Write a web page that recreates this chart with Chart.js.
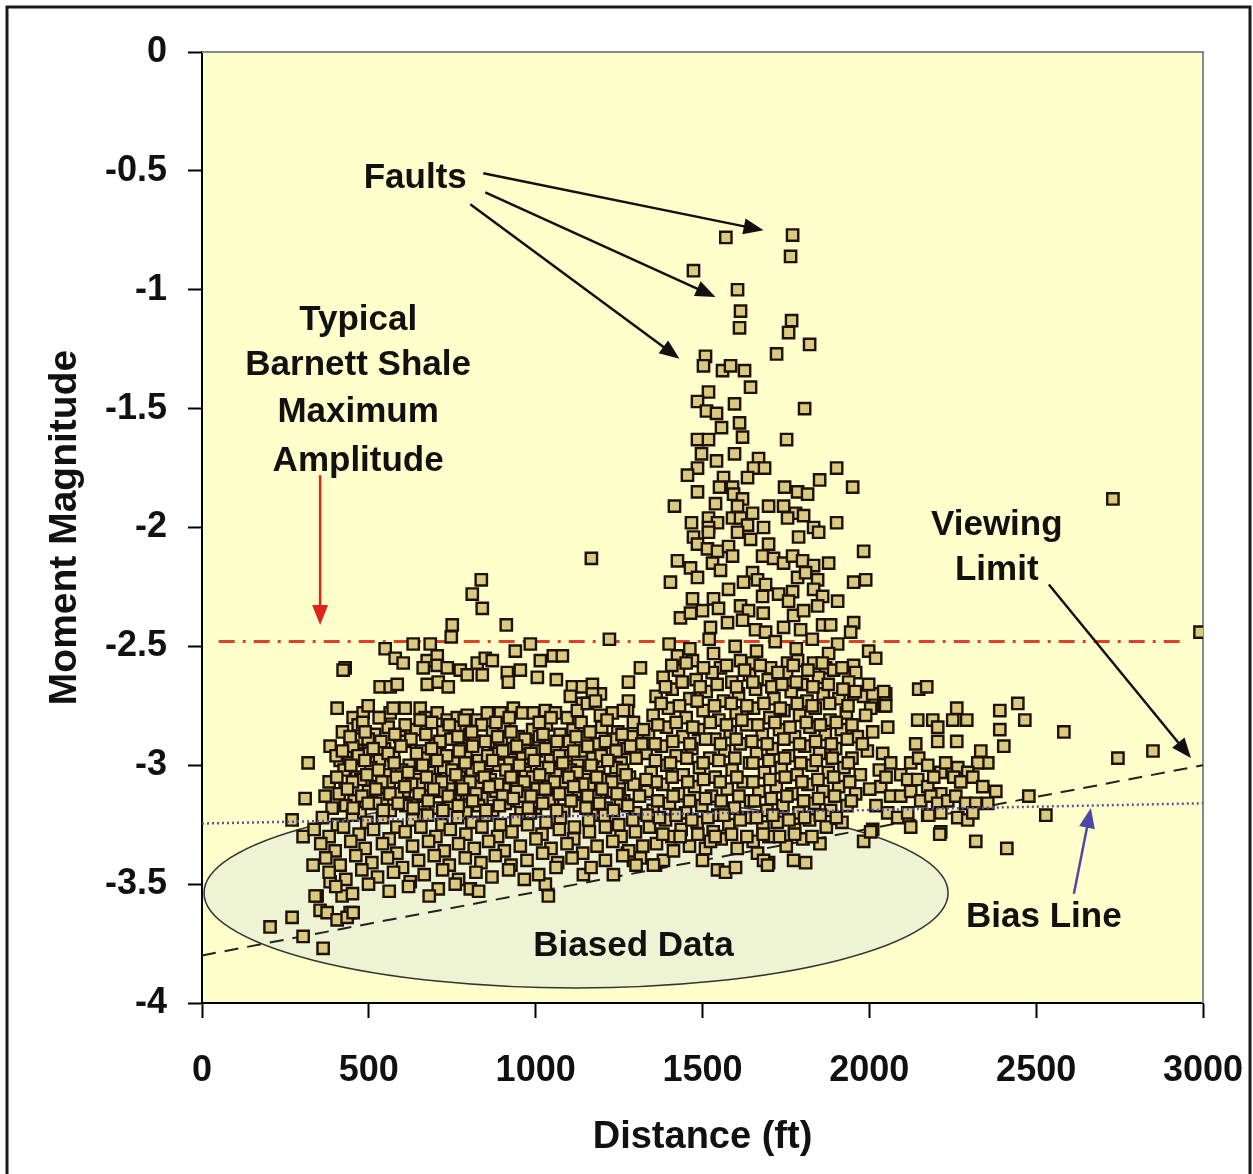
<!DOCTYPE html>
<html>
<head>
<meta charset="utf-8">
<script src="https://cdn.jsdelivr.net/npm/chart.js@4.4.1/dist/chart.umd.min.js"></script>
<style>
  html, body { margin: 0; padding: 0; background: #fff; }
  #wrap { width: 1253px; height: 1174px; position: relative; }
</style>
</head>
<body>
<div id="wrap"><canvas id="chart"></canvas></div>
<script>
// distance (ft), moment magnitude
const faultColumn = [
  [1570,-0.78],[1770,-0.77],[1764,-0.86],[1473,-0.92],[1605,-1.00],[1614,-1.09],[1611,-1.16],[1767,-1.13],[1758,-1.18],
  [1821,-1.23],[1722,-1.27],[1509,-1.28],[1503,-1.32],[1560,-1.34],[1584,-1.32],[1626,-1.34],[1644,-1.41],[1518,-1.43],
  [1485,-1.47],[1596,-1.48],[1806,-1.50],[1512,-1.51],[1542,-1.52],[1611,-1.56],[1557,-1.58],[1485,-1.63],[1518,-1.63],
  [1620,-1.62],[1752,-1.63],[1497,-1.69],[1596,-1.69],[1668,-1.71],[1542,-1.72],[1485,-1.75],[1455,-1.78],[1563,-1.79],
  [1653,-1.75],[1686,-1.75],[1635,-1.79],[1902,-1.75],[1851,-1.80],[1950,-1.83],[1485,-1.85],[1551,-1.83],[1590,-1.83],
  [1593,-1.86],[1620,-1.88],[1746,-1.83],[1785,-1.85],[1815,-1.86],[1416,-1.91],[1539,-1.90],[1605,-1.91],[1698,-1.91],
  [1743,-1.91],[1779,-1.94],[1803,-1.95],[1467,-1.98],[1518,-1.96],[1545,-1.98],[1518,-2.00],[1590,-1.96],[1614,-1.96],
  [1650,-1.94],[1635,-1.99],[1683,-2.00],[1755,-1.96],[1833,-2.00],[1848,-2.02],[1902,-1.98],[1473,-2.04],[1485,-2.07],
  [1518,-2.02],[1605,-2.02],[1644,-2.05],[1698,-2.07],[1788,-2.04],[1515,-2.09],[1545,-2.10],[1578,-2.08],[1425,-2.14],
  [1464,-2.17],[1485,-2.21],[1530,-2.15],[1554,-2.18],[1590,-2.12],[1680,-2.12],[1713,-2.13],[1743,-2.15],[1770,-2.12],
  [1800,-2.14],[1833,-2.16],[1878,-2.15],[1983,-2.10],[1404,-2.23],[1650,-2.19],[1665,-2.22],[1689,-2.24],[1623,-2.23],
  [1785,-2.21],[1809,-2.19],[1845,-2.22],[1953,-2.23],[1989,-2.22],[1470,-2.30],[1533,-2.30],[1578,-2.26],[1434,-2.38],
  [1464,-2.36],[1500,-2.35],[1548,-2.34],[1614,-2.33],[1638,-2.35],[1680,-2.29],[1682,-2.36],[1728,-2.28],[1770,-2.27],
  [1758,-2.31],[1773,-2.37],[1803,-2.35],[1833,-2.26],[1860,-2.29],[1845,-2.33],[1905,-2.31],[1524,-2.42],[1575,-2.40],
  [1620,-2.39],[1659,-2.43],[1689,-2.44],[1743,-2.42],[1794,-2.43],[1860,-2.41],[1884,-2.41],[1953,-2.40],[1944,-2.44],
  [2730,-1.88],[1167,-2.13]
];

const faultBase = [
  [1998,-2.52],[2019,-2.55],[1425,-2.54],[1470,-2.56],[1533,-2.53],[1554,-2.59],[1614,-2.56],[1650,-2.57],[1704,-2.59],
  [1755,-2.57],[1785,-2.56],[1833,-2.57],[1869,-2.59],[1953,-2.58],[1905,-2.49],[1959,-2.61],[1998,-2.66],[2043,-2.69],[2049,-2.75],
  [1400,-2.49],[1462,-2.51],[1520,-2.47],[1598,-2.50],[1662,-2.52],[1718,-2.48],[1781,-2.51],[1829,-2.47],[1878,-2.53],
  [1382,-2.63],[1428,-2.60],[1481,-2.64],[1529,-2.61],[1588,-2.65],[1641,-2.62],[1697,-2.64],[1752,-2.61],[1799,-2.66],
  [1848,-2.63],[1893,-2.60],[1938,-2.65],
  [1361,-2.71],[1409,-2.68],[1462,-2.72],[1511,-2.69],[1563,-2.73],[1608,-2.70],[1659,-2.68],[1714,-2.72],[1766,-2.69],
  [1813,-2.73],[1862,-2.70],[1909,-2.72],[1958,-2.69],
  [1352,-2.79],[1398,-2.76],[1451,-2.80],[1502,-2.77],[1549,-2.81],[1601,-2.78],[1653,-2.76],[1702,-2.80],[1744,-2.77],
  [1791,-2.79],[1838,-2.76],[1882,-2.81],[1931,-2.78],
  [1338,-2.87],[1392,-2.84],[1441,-2.88],[1488,-2.85],[1537,-2.89],[1583,-2.86],[1632,-2.83],[1679,-2.87],[1731,-2.85],
  [1776,-2.88],[1822,-2.84],[1868,-2.87],[1916,-2.85],[1964,-2.88],
  [1331,-2.95],[1377,-2.92],[1421,-2.96],[1468,-2.93],[1522,-2.97],[1566,-2.94],[1613,-2.91],[1662,-2.95],[1709,-2.93],
  [1758,-2.96],[1806,-2.92],[1851,-2.95],[1899,-2.93],[1948,-2.97],[1994,-2.94],
  [1346,-3.03],[1393,-3.00],[1442,-3.04],[1491,-3.01],[1538,-3.05],[1589,-3.02],[1641,-2.99],[1686,-3.03],[1736,-3.01],
  [1784,-3.04],[1829,-3.00],[1877,-3.03],[1924,-3.01],[1973,-3.04],
  [1334,-3.11],[1381,-3.08],[1428,-3.12],[1476,-3.09],[1527,-3.13],[1574,-3.10],[1622,-3.07],[1669,-3.11],[1721,-3.09],
  [1768,-3.12],[1816,-3.08],[1861,-3.11],[1908,-3.09],[1959,-3.12],[2001,-3.10],
  [1352,-3.19],[1401,-3.16],[1449,-3.20],[1498,-3.17],[1546,-3.21],[1596,-3.18],[1644,-3.15],[1693,-3.19],[1741,-3.17],
  [1789,-3.20],[1836,-3.16],[1884,-3.19],[1933,-3.17],
  [1341,-3.26],[1389,-3.23],[1436,-3.27],[1484,-3.24],[1532,-3.28],[1579,-3.25],[1628,-3.22],[1681,-3.26],[1724,-3.24],
  [1776,-3.27],[1821,-3.23],[1871,-3.26],[1918,-3.24],
  [1362,-3.33],[1408,-3.30],[1461,-3.34],[1556,-3.31],[1604,-3.35],[1652,-3.32],[1699,-3.30],[1751,-3.34],[1801,-3.31],[1852,-3.33],
  [1545,-3.44],[1569,-3.45],[1599,-3.43],[1809,-3.41],[1773,-3.40],[1698,-3.41],[1665,-3.37],[1359,-3.42],[1383,-3.40],
  [1413,-3.36],[1500,-3.40],[1509,-3.35],[1524,-3.32],[1275,-3.37],[1293,-3.40],[1314,-3.39],[1983,-3.32],[2004,-3.28],
  [1683,-3.40],[1695,-3.42],[1353,-3.42],
  [1408,-2.58],[1451,-2.57],[1503,-2.59],[1572,-2.58],[1626,-2.60],[1673,-2.58],[1726,-2.61],[1772,-2.58],[1816,-2.60],
  [1859,-2.57],[1918,-2.59],
  [1389,-2.67],[1439,-2.65],[1493,-2.67],[1544,-2.66],[1602,-2.67],[1651,-2.65],[1708,-2.67],[1738,-2.66],[1781,-2.65],
  [1831,-2.67],[1877,-2.66],[1921,-2.68],
  [1376,-2.74],[1431,-2.75],[1484,-2.73],[1536,-2.75],[1586,-2.74],[1633,-2.75],[1684,-2.74],[1733,-2.76],[1784,-2.74],
  [1829,-2.75],[1881,-2.74],[1936,-2.75],
  [1366,-2.83],[1421,-2.82],[1471,-2.84],[1523,-2.82],[1572,-2.83],[1618,-2.81],[1666,-2.83],[1717,-2.82],[1762,-2.84],
  [1811,-2.82],[1853,-2.83],[1901,-2.82],[1948,-2.83],
  [1358,-2.91],[1411,-2.90],[1462,-2.91],[1509,-2.89],[1554,-2.91],[1601,-2.89],[1648,-2.90],[1694,-2.91],[1744,-2.89],
  [1791,-2.91],[1839,-2.90],[1886,-2.91],[1934,-2.89],[1979,-2.91],
  [1359,-2.98],[1404,-2.99],[1453,-2.97],[1502,-2.99],[1549,-2.98],[1597,-2.97],[1651,-2.99],[1699,-2.98],[1746,-2.97],
  [1794,-2.99],[1841,-2.98],[1889,-2.97],[1937,-2.99],
  [1361,-3.07],[1409,-3.05],[1456,-3.07],[1503,-3.06],[1553,-3.07],[1603,-3.05],[1651,-3.07],[1702,-3.06],[1748,-3.05],
  [1798,-3.07],[1846,-3.06],[1893,-3.05],[1941,-3.07],
  [1366,-3.15],[1412,-3.13],[1461,-3.15],[1509,-3.14],[1556,-3.15],[1609,-3.13],[1656,-3.15],[1706,-3.14],[1753,-3.13],
  [1803,-3.15],[1848,-3.14],[1896,-3.13],[1946,-3.15],
  [1371,-3.22],[1421,-3.21],[1468,-3.23],[1516,-3.22],[1564,-3.21],[1613,-3.23],[1662,-3.22],[1711,-3.21],[1759,-3.23],
  [1806,-3.22],[1853,-3.21],[1901,-3.22],
  [1381,-3.29],[1433,-3.30],[1486,-3.29],[1538,-3.30],[1587,-3.29],[1633,-3.30],[1682,-3.29],[1731,-3.30],[1776,-3.29],[1828,-3.30]
];

const westCluster = [
  [837,-2.22],[810,-2.28],[840,-2.34],[750,-2.41],[747,-2.46],[912,-2.41],[633,-2.49],[684,-2.49],[984,-2.49],[1221,-2.47],
  [549,-2.51],[579,-2.55],[603,-2.57],[429,-2.59],[675,-2.56],[705,-2.54],[663,-2.59],[705,-2.58],[735,-2.59],[774,-2.60],
  [795,-2.62],[825,-2.57],[849,-2.55],[870,-2.56],[840,-2.62],[939,-2.52],[1014,-2.56],[1053,-2.54],[1080,-2.54],[915,-2.61],
  [954,-2.60],[1005,-2.63],[918,-2.65],[1314,-2.59],[1278,-2.65],[1062,-2.64],[534,-2.67],[564,-2.67],[585,-2.66],[675,-2.66],
  [708,-2.65],[738,-2.67],[1110,-2.67],[1140,-2.67],[1170,-2.66],[1194,-2.70],[1104,-2.71],[1170,-2.70],[1140,-2.74],
  [1278,-2.73],[1275,-2.77],[405,-2.76],[453,-2.80],[483,-2.78],[498,-2.75],[534,-2.80],[564,-2.78],[573,-2.76],[609,-2.76],
  [654,-2.76],[669,-2.80],[705,-2.78],[735,-2.81],[765,-2.80],[795,-2.79],[825,-2.81],[855,-2.78],[894,-2.78],[933,-2.76],
  [960,-2.78],[993,-2.78],[1029,-2.77],[1059,-2.78],[1095,-2.80],[1125,-2.77],[1155,-2.74],[1179,-2.73],[1194,-2.79],
  [1230,-2.78],[1263,-2.77],[1293,-2.82],[1323,-2.85],[384,-2.92],[318,-2.99],[414,-2.98],[444,-2.92],[468,-2.89],[498,-2.94],
  [465,-2.97],[309,-3.14],[369,-3.13],[390,-3.18],[270,-3.23],[303,-3.30],[333,-3.42],[345,-3.55],[354,-3.61],[270,-3.64],
  [384,-3.49],[420,-3.55],[444,-3.62],[708,-3.52],[804,-3.52],[1029,-3.50],[1038,-3.55],[1143,-3.46],[1233,-3.46],
  [204,-3.68],[303,-3.72],[363,-3.77],[339,-3.55],[375,-3.62],[405,-3.65],[435,-3.64],[453,-3.62],[423,-2.60],
  [421,-2.86],[468,-2.83],[517,-2.87],[558,-2.84],[593,-2.88],[641,-2.85],[688,-2.82],[722,-2.86],[758,-2.84],[802,-2.87],
  [838,-2.83],[871,-2.86],[907,-2.84],[948,-2.88],[991,-2.85],[1032,-2.83],[1073,-2.87],[1112,-2.85],[1151,-2.88],[1198,-2.84],
  [1246,-2.86],[1288,-2.88],
  [452,-2.92],[498,-2.89],[547,-2.93],[608,-2.90],[657,-2.94],[699,-2.91],[746,-2.89],[781,-2.93],[817,-2.90],[858,-2.92],
  [897,-2.89],[933,-2.93],[976,-2.91],[1011,-2.88],[1058,-2.92],[1101,-2.90],[1136,-2.94],[1183,-2.91],[1231,-2.89],
  [1272,-2.93],[1318,-2.91],
  [402,-2.96],[441,-2.99],[489,-2.95],[532,-2.98],[574,-2.96],[621,-3.00],[666,-2.97],[711,-2.95],[754,-2.99],[791,-2.96],
  [829,-2.98],[879,-2.95],[921,-2.99],[961,-2.97],[1002,-2.94],[1044,-2.98],[1091,-2.96],[1126,-3.00],[1171,-2.97],
  [1214,-2.95],[1256,-2.99],[1301,-2.97],
  [426,-3.02],[464,-3.05],[506,-3.01],[551,-3.04],[598,-3.02],[641,-3.06],[681,-3.03],[724,-3.01],[771,-3.05],[809,-3.02],
  [851,-3.04],[889,-3.00],[931,-3.05],[969,-3.03],[1019,-3.01],[1061,-3.04],[1104,-3.02],[1146,-3.06],[1189,-3.03],
  [1241,-3.01],[1281,-3.05],
  [381,-3.07],[429,-3.10],[476,-3.06],[519,-3.09],[561,-3.07],[606,-3.11],[651,-3.08],[699,-3.06],[741,-3.10],[779,-3.07],
  [826,-3.09],[864,-3.06],[906,-3.10],[944,-3.08],[991,-3.05],[1034,-3.09],[1081,-3.07],[1119,-3.11],[1161,-3.08],
  [1204,-3.06],[1251,-3.10],[1294,-3.08],[1331,-3.06],
  [411,-3.12],[456,-3.15],[499,-3.11],[541,-3.14],[586,-3.12],[629,-3.16],[671,-3.13],[716,-3.11],[759,-3.15],[801,-3.12],
  [839,-3.14],[881,-3.11],[919,-3.15],[966,-3.13],[1004,-3.10],[1051,-3.14],[1094,-3.12],[1136,-3.16],[1179,-3.13],
  [1226,-3.11],[1264,-3.15],[1311,-3.13],
  [431,-3.17],[474,-3.20],[521,-3.16],[564,-3.19],[611,-3.17],[654,-3.21],[701,-3.18],[744,-3.16],[791,-3.20],[829,-3.17],
  [871,-3.19],[909,-3.16],[956,-3.20],[999,-3.18],[1041,-3.15],[1084,-3.19],[1131,-3.17],[1169,-3.21],[1211,-3.18],
  [1254,-3.16],[1299,-3.20],
  [361,-3.22],[406,-3.25],[451,-3.21],[494,-3.24],[541,-3.22],[584,-3.26],[631,-3.23],[676,-3.21],[719,-3.25],[766,-3.22],
  [809,-3.24],[851,-3.21],[894,-3.25],[941,-3.23],[984,-3.20],[1031,-3.24],[1074,-3.22],[1116,-3.26],[1159,-3.23],
  [1206,-3.21],[1249,-3.25],[1291,-3.23],[1334,-3.21],
  [336,-3.27],[381,-3.30],[424,-3.26],[471,-3.29],[514,-3.27],[561,-3.31],[609,-3.28],[656,-3.26],[701,-3.30],[744,-3.27],
  [791,-3.29],[839,-3.26],[886,-3.30],[929,-3.28],[976,-3.25],[1019,-3.29],[1071,-3.27],[1114,-3.31],[1161,-3.28],
  [1209,-3.26],[1256,-3.30],[1299,-3.28],
  [356,-3.33],[399,-3.36],[446,-3.32],[489,-3.35],[541,-3.33],[584,-3.37],[631,-3.34],[679,-3.32],[726,-3.36],[769,-3.33],
  [816,-3.35],[859,-3.32],[906,-3.36],[954,-3.34],[1001,-3.31],[1046,-3.35],[1094,-3.33],[1141,-3.37],[1184,-3.34],
  [1231,-3.32],[1279,-3.36],[1321,-3.34],
  [371,-3.39],[414,-3.42],[461,-3.38],[509,-3.41],[556,-3.39],[601,-3.43],[649,-3.40],[696,-3.38],[741,-3.42],[789,-3.39],
  [836,-3.41],[879,-3.38],[926,-3.42],[974,-3.40],[1021,-3.37],[1066,-3.41],[1109,-3.39],[1166,-3.43],[1209,-3.40],
  [1261,-3.38],[1301,-3.42],
  [381,-3.45],[431,-3.48],[479,-3.44],[526,-3.47],[574,-3.45],[624,-3.49],[666,-3.46],[721,-3.44],[769,-3.48],[821,-3.45],
  [869,-3.47],[919,-3.44],[966,-3.48],[1009,-3.46],[1061,-3.43],
  [401,-3.51],[451,-3.54],[499,-3.50],[561,-3.53],[619,-3.51],[681,-3.55],[759,-3.50],[829,-3.53],
  [482,-2.82],[531,-2.80],[609,-2.83],[654,-2.81],[741,-2.83],[786,-2.81],[881,-2.82],[921,-2.80],[1011,-2.82],[1046,-2.80],
  [1136,-2.82],[1214,-2.81],
  [444,-2.88],[489,-2.86],[536,-2.90],[578,-2.87],[626,-2.89],[671,-2.87],[713,-2.90],[767,-2.88],[808,-2.86],[849,-2.90],
  [886,-2.88],[926,-2.86],[968,-2.89],[1022,-2.87],[1064,-2.90],[1121,-2.88],[1163,-2.86],[1209,-2.90],[1259,-2.87],
  [421,-2.94],[468,-2.96],[513,-2.93],[558,-2.95],[596,-2.92],[643,-2.95],[688,-2.93],[733,-2.96],[771,-2.94],[811,-2.92],
  [856,-2.96],[901,-2.94],[943,-2.92],[986,-2.95],[1029,-2.93],[1071,-2.96],[1114,-2.94],[1156,-2.92],[1196,-2.96],
  [1241,-2.94],[1284,-2.92],
  [446,-3.00],[488,-2.98],[529,-3.02],[576,-2.99],[618,-3.03],[661,-3.00],[704,-2.98],[749,-3.02],[789,-2.99],[831,-3.01],
  [871,-2.98],[911,-3.02],[951,-3.00],[996,-2.98],[1039,-3.01],[1081,-2.99],[1124,-3.03],[1166,-3.00],[1216,-2.98],[1261,-3.02],
  [404,-3.05],[451,-3.07],[494,-3.04],[539,-3.07],[583,-3.05],[628,-3.08],[673,-3.05],[718,-3.07],[761,-3.04],[803,-3.07],
  [846,-3.05],[886,-3.08],[926,-3.05],[966,-3.07],[1012,-3.04],[1056,-3.07],[1099,-3.05],[1141,-3.08],[1183,-3.05],
  [1228,-3.07],[1271,-3.04],
  [436,-3.10],[479,-3.13],[521,-3.10],[563,-3.12],[608,-3.09],[651,-3.12],[694,-3.10],[738,-3.13],[781,-3.10],[821,-3.12],
  [861,-3.09],[901,-3.13],[943,-3.11],[986,-3.13],[1028,-3.10],[1071,-3.12],[1114,-3.09],[1156,-3.13],[1199,-3.10],[1244,-3.12],
  [453,-3.18],[498,-3.16],[543,-3.19],[588,-3.16],[633,-3.18],[678,-3.15],[722,-3.19],[768,-3.17],[811,-3.15],[851,-3.19],
  [891,-3.17],[933,-3.14],[978,-3.18],[1021,-3.16],[1063,-3.19],[1106,-3.15],[1151,-3.18],[1191,-3.16],[1233,-3.19],[1276,-3.17]
];

const eastTail = [
  [1953,-2.70],[1983,-2.71],[2010,-2.70],[2049,-2.70],[2043,-2.75],[2004,-2.76],[1989,-2.79],[2148,-2.68],[2172,-2.67],
  [2145,-2.81],[2190,-2.81],[2205,-2.84],[2262,-2.76],[2250,-2.81],[2292,-2.81],[2391,-2.77],[2445,-2.74],[2466,-2.81],
  [2391,-2.85],[2403,-2.92],[2055,-2.84],[2010,-2.86],[2139,-2.91],[2205,-2.90],[2262,-2.90],[2334,-2.94],[2355,-2.99],
  [2325,-2.99],[2040,-2.95],[2064,-2.99],[2124,-2.99],[2148,-2.97],[2175,-3.00],[2214,-3.03],[2229,-2.99],[2265,-3.01],
  [2295,-3.03],[2310,-3.05],[2253,-3.05],[2274,-3.07],[2340,-3.09],[2379,-3.11],[2094,-3.04],[2115,-3.06],[2145,-3.06],
  [2175,-3.09],[2193,-3.05],[2214,-3.12],[2034,-3.09],[2064,-3.13],[2094,-3.13],[2124,-3.11],[2154,-3.15],[2184,-3.13],
  [2205,-3.16],[2235,-3.15],[2259,-3.13],[2289,-3.16],[2319,-3.16],[2355,-3.16],[2055,-3.20],[2085,-3.22],[2115,-3.20],
  [2175,-3.21],[2214,-3.20],[2265,-3.22],[2295,-3.23],[2310,-3.20],[2124,-3.26],[2178,-3.21],[2214,-3.28],[2010,-3.27],
  [2478,-3.13],[2991,-2.44],[2745,-2.97],[2850,-2.94],[2583,-2.86],[2529,-3.21],[2412,-3.35],[2319,-3.32],[2211,-3.29],
  [2030,-3.02],[2020,-3.17],[2050,-3.05]
];

// reference lines
const maxAmplitudeLine = [[50,-2.48],[2930,-2.48]];
const biasLine = [[0,-3.245],[3000,-3.16]];
const viewingLimit = [[0,-3.8],[3000,-3.0]];

const FONT = "'Liberation Sans', Arial, Helvetica, sans-serif";
const toXY = arr => arr.map(p => ({ x: p[0], y: p[1] }));

// text and arrows, in data units
const labels = [
  { text: 'Faults', x: 639, y: -0.53 },
  { text: 'Typical', x: 468, y: -1.13 },
  { text: 'Barnett Shale', x: 468, y: -1.32 },
  { text: 'Maximum', x: 468, y: -1.515 },
  { text: 'Amplitude', x: 468, y: -1.72 },
  { text: 'Viewing', x: 2382, y: -1.99 },
  { text: 'Limit', x: 2382, y: -2.18 },
  { text: 'Bias Line', x: 2523, y: -3.64 },
  { text: 'Biased Data', x: 1293, y: -3.76 }
];
const arrows = [
  { from: [843,-0.51], to: [1683,-0.75], color: '#111' },
  { from: [849,-0.59], to: [1539,-1.03], color: '#111' },
  { from: [804,-0.64], to: [1431,-1.29], color: '#111' },
  { from: [354,-1.78], to: [354,-2.41], color: '#e02418' },
  { from: [2538,-2.24], to: [2964,-2.97], color: '#111' },
  { from: [2613,-3.54], to: [2664,-3.18], color: '#4a4aa6' }
];
const biasZone = { cx: 1121, cy: -3.537, rx: 1115, ry: 0.40 };

function drawArrow(ctx, x1, y1, x2, y2, color) {
  const ang = Math.atan2(y2 - y1, x2 - x1);
  const head = 20, half = 8;
  ctx.save();
  ctx.strokeStyle = color;
  ctx.fillStyle = color;
  ctx.lineWidth = 2.5;
  ctx.beginPath();
  ctx.moveTo(x1, y1);
  ctx.lineTo(x2 - Math.cos(ang) * head * 0.8, y2 - Math.sin(ang) * head * 0.8);
  ctx.stroke();
  ctx.beginPath();
  ctx.moveTo(x2, y2);
  ctx.lineTo(x2 - head * Math.cos(ang) + half * Math.sin(ang), y2 - head * Math.sin(ang) - half * Math.cos(ang));
  ctx.lineTo(x2 - head * Math.cos(ang) - half * Math.sin(ang), y2 - head * Math.sin(ang) + half * Math.cos(ang));
  ctx.closePath();
  ctx.fill();
  ctx.restore();
}

const decorations = {
  id: 'decorations',
  beforeDraw(chart) {
    const { ctx, chartArea: a, width } = chart;
    ctx.save();
    ctx.fillStyle = '#fff';
    ctx.fillRect(0, 0, chart.width, chart.height);
    ctx.fillStyle = '#ffffcc';
    ctx.fillRect(a.left, a.top, a.right - a.left, a.bottom - a.top);
    // outer frame
    ctx.strokeStyle = '#1a1a1a';
    ctx.lineWidth = 3;
    ctx.beginPath();
    ctx.moveTo(7, chart.height);
    ctx.lineTo(7, 7);
    ctx.lineTo(width - 3, 7);
    ctx.lineTo(width - 3, chart.height);
    ctx.stroke();
    ctx.restore();
  },
  beforeDatasetsDraw(chart) {
    const { ctx, chartArea: a, scales: { x, y } } = chart;
    const cx = x.getPixelForValue(biasZone.cx);
    const cy = y.getPixelForValue(biasZone.cy);
    const rx = x.getPixelForValue(biasZone.cx + biasZone.rx) - cx;
    const ry = y.getPixelForValue(biasZone.cy - biasZone.ry) - cy;
    ctx.save();
    ctx.beginPath();
    ctx.rect(a.left, a.top, a.right - a.left, a.bottom - a.top);
    ctx.clip();
    ctx.beginPath();
    ctx.ellipse(cx, cy, rx, ry, 0, 0, Math.PI * 2);
    ctx.fillStyle = '#eef3d4';
    ctx.fill();
    ctx.strokeStyle = '#333';
    ctx.lineWidth = 1.5;
    ctx.stroke();
    ctx.restore();
    // plot frame top/right
    ctx.save();
    ctx.strokeStyle = '#8a8a8a';
    ctx.lineWidth = 2;
    ctx.beginPath();
    ctx.moveTo(a.left, a.top);
    ctx.lineTo(a.right, a.top);
    ctx.lineTo(a.right, a.bottom);
    ctx.stroke();
    ctx.restore();
  },
  afterDatasetsDraw(chart) {
    const { ctx, scales: { x, y } } = chart;
    arrows.forEach(a => {
      drawArrow(ctx, x.getPixelForValue(a.from[0]), y.getPixelForValue(a.from[1]),
        x.getPixelForValue(a.to[0]), y.getPixelForValue(a.to[1]), a.color);
    });
    ctx.save();
    ctx.font = 'bold 35px ' + FONT;
    ctx.fillStyle = '#111';
    ctx.textAlign = 'center';
    ctx.textBaseline = 'middle';
    labels.forEach(l => ctx.fillText(l.text, x.getPixelForValue(l.x), y.getPixelForValue(l.y)));
    ctx.restore();
  }
};

const pointStyle = {
  pointStyle: 'rect',
  pointRadius: 8,
  pointBorderWidth: 2.4,
  pointBackgroundColor: '#dac97e',
  pointBorderColor: '#1c1206',
  order: 1
};

new Chart(document.getElementById('chart'), {
  type: 'scatter',
  data: {
    datasets: [
      { label: 'Max amplitude', data: toXY(maxAmplitudeLine), showLine: true, pointRadius: 0,
        borderColor: '#e0402a', borderWidth: 3, borderDash: [16, 8, 3, 8], order: 2 },
      { label: 'Viewing limit', data: toXY(viewingLimit), showLine: true, pointRadius: 0,
        borderColor: '#222', borderWidth: 2, borderDash: [14, 9], order: 2 },
      { label: 'West', data: toXY(westCluster), ...pointStyle },
      { label: 'Fault base', data: toXY(faultBase), ...pointStyle },
      { label: 'Fault column', data: toXY(faultColumn), ...pointStyle },
      { label: 'East', data: toXY(eastTail), ...pointStyle },
      { label: 'Bias line', data: toXY(biasLine), showLine: true, pointRadius: 0,
        borderColor: '#5555a8', borderWidth: 2.5, borderDash: [2, 3], order: 0 }
    ]
  },
  options: {
    responsive: true,
    maintainAspectRatio: false,
    animation: false,
    events: [],
    layout: { padding: { top: 52, right: 50, left: 0, bottom: 0 } },
    plugins: { legend: { display: false }, tooltip: { enabled: false } },
    scales: {
      x: {
        type: 'linear',
        min: 0, max: 3000,
        ticks: { stepSize: 500, color: '#111', padding: 31,
          font: { family: FONT, size: 36, weight: 'bold' },
          callback: v => String(v) },
        grid: { drawOnChartArea: false, drawTicks: true, tickLength: 15, tickColor: '#000', tickWidth: 2 },
        border: { color: '#000', width: 2 },
        title: { display: true, text: 'Distance (ft)', color: '#111',
          font: { family: FONT, size: 38, weight: 'bold', lineHeight: 1 }, padding: { top: 0, bottom: 17 } },
        afterFit: s => { s.height = 171; s.paddingLeft = 0; s.paddingRight = 0; }
      },
      y: {
        min: -4, max: 0,
        ticks: { stepSize: 0.5, color: '#111', padding: 21,
          font: { family: FONT, size: 36, weight: 'bold' },
          callback: v => String(v) },
        grid: { drawOnChartArea: false, drawTicks: true, tickLength: 14, tickColor: '#000', tickWidth: 2 },
        border: { color: '#000', width: 2 },
        title: { display: true, text: 'Moment Magnitude', color: '#111',
          font: { family: FONT, size: 39, weight: 'bold', lineHeight: 1 }, padding: { top: 46, bottom: 0 } },
        afterFit: s => { s.width = 202; s.paddingTop = 0; s.paddingBottom = 0; }
      }
    }
  },
  plugins: [decorations]
});
</script>
</body>
</html>
